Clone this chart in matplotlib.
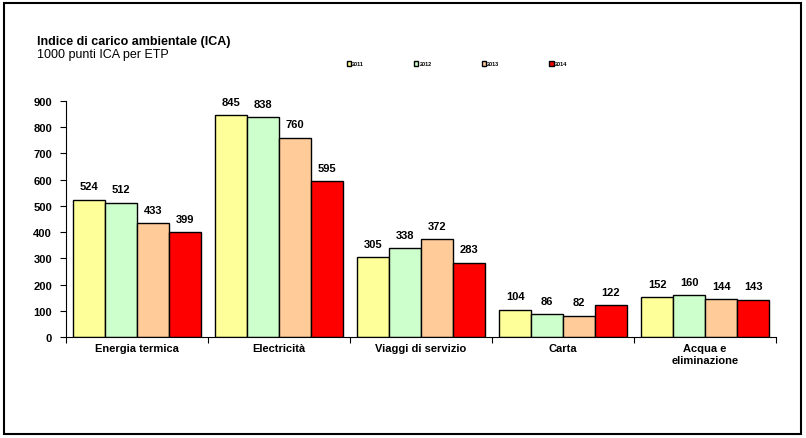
import numpy as np
import matplotlib
matplotlib.use("Agg")
import matplotlib.pyplot as plt
from matplotlib.patches import Rectangle

plt.rcParams['font.family'] = ['Liberation Sans', 'DejaVu Sans']

# data
categories = ['Energia termica', 'Electricità', 'Viaggi di servizio', 'Carta', 'Acqua e\neliminazione']
years = ['2011', '2012', '2013', '2014']
v2011 = [524, 845, 305, 104, 152]
v2012 = [512, 838, 338, 86, 160]
v2013 = [433, 760, 372, 82, 144]
v2014 = [399, 595, 283, 122, 143]
series = [v2011, v2012, v2013, v2014]
colors = ['#FFFF99', '#CCFFCC', '#FFCC99', '#FF0000']

fig = plt.figure(figsize=(8.06, 4.39), dpi=100)
# outer frame
fig.patches.append(Rectangle((0.005, 0.009), 0.989, 0.982, transform=fig.transFigure,
                             fill=False, edgecolor='black', linewidth=1.5))

ax = fig.add_axes([0.0819, 0.230, 0.881, 0.5377])

x = np.arange(len(categories))
w = 0.225
for i, (vals, c) in enumerate(zip(series, colors)):
    pos = x - 1.5 * w + i * w
    ax.bar(pos, vals, width=w, color=c, edgecolor='black', linewidth=1.0, label=years[i])
    for p, v in zip(pos, vals):
        ax.annotate(str(v), (p, v), xytext=(0, 6), textcoords='offset points',
                    ha='center', va='bottom', fontsize=8, fontweight='bold')

ax.set_xlim(-0.5, len(categories) - 0.5)
ax.set_ylim(0, 900)
ax.set_yticks(np.arange(0, 901, 100))
ax.set_xticks(np.arange(-0.5, len(categories) + 0.5, 1))
ax.set_xticklabels([])
ax.set_xticks(x, minor=True)
ax.set_xticklabels(categories, minor=True, fontsize=8, fontweight='bold', linespacing=1.35)
ax.tick_params(axis='x', which='minor', length=0, pad=4)
ax.tick_params(axis='x', which='major', length=4, direction='out')
ax.tick_params(axis='y', length=4, labelsize=8, pad=6)
for lbl in ax.get_yticklabels():
    lbl.set_fontweight('bold')
ax.spines['top'].set_visible(False)
ax.spines['right'].set_visible(False)

fig.text(0.046, 0.905, 'Indice di carico ambientale (ICA)', fontsize=9, fontweight='bold', va='center')
fig.text(0.046, 0.875, '1000 punti ICA per ETP', fontsize=9, va='center')

fig.legend(loc='center', bbox_to_anchor=(0.567, 0.852), ncol=4, frameon=False,
           handlelength=0.8, handleheight=0.8, columnspacing=9,
           handletextpad=0.2, prop={'size': 4, 'weight': 'bold'})

plt.savefig('out.png', dpi=100)
